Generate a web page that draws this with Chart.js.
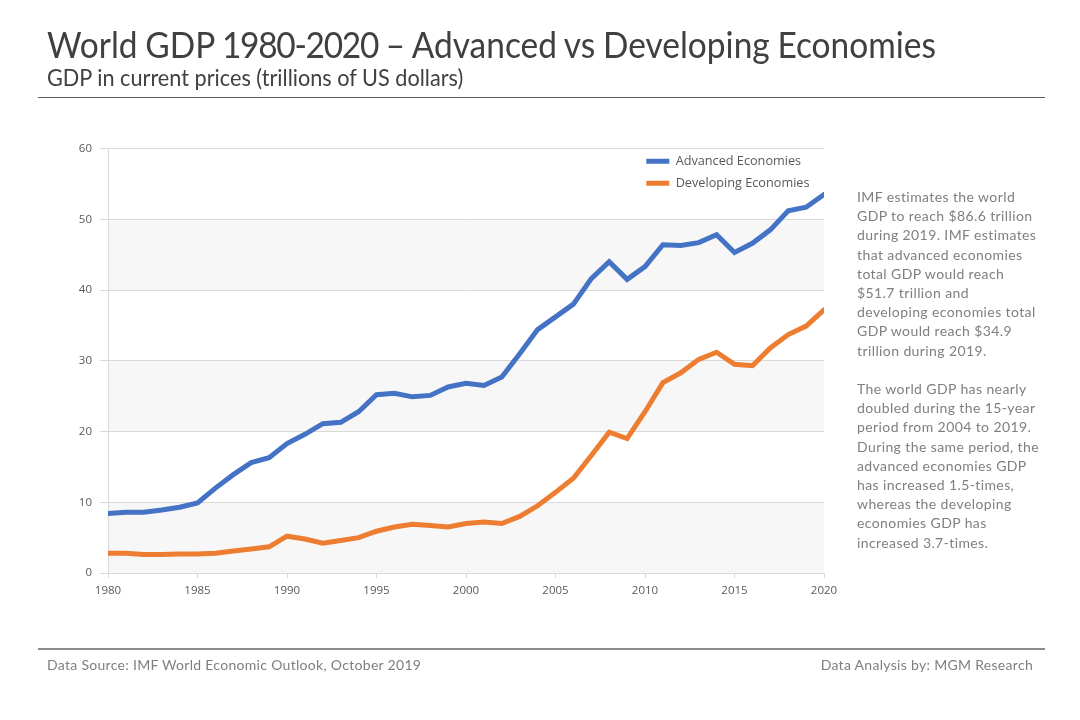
<!DOCTYPE html>
<html>
<head>
<meta charset="utf-8">
<title>World GDP 1980-2020</title>
<script src="https://cdn.jsdelivr.net/npm/chart.js@4/dist/chart.umd.min.js"></script>
<style>
  html, body { margin: 0; padding: 0; background: #fff; }
  #page { position: relative; width: 1080px; height: 720px; overflow: hidden; font-family: Lato, sans-serif; }
  #page div { position: absolute; white-space: nowrap; }
  canvas { position: absolute; left: 0; top: 0; }
  #title { left: 47px; top: 21px; font-size: 36px; line-height: 46px; color: #404040; word-spacing: -1px; transform: scaleX(0.93); transform-origin: left center; }
  #title span { letter-spacing: -1.4px; }
  #subtitle { left: 47px; top: 63px; font-size: 22.5px; line-height: 30px; color: #404040; transform: scaleX(0.963); transform-origin: left center; }
  .rule { height: 1px; left: 38px; width: 1007px; }
  #ruleTop { top: 97px; background: #595959; }
  #ruleBottom { top: 648px; height: 2px; background: #8c8c8c; }
  #notes { left: 857px; top: 187px; font-size: 14px; line-height: 19.2px; color: #7f7f7f; letter-spacing: 0.4px; }
  .foot { top: 655px; font-size: 14px; line-height: 20px; color: #7f7f7f; letter-spacing: 0.3px; }
  #source { left: 47px; }
  #credit { right: 47px; }
</style>
</head>
<body>
<div id="page">
  <canvas id="gdpChart" width="1080" height="720"></canvas>
  <div id="title">World GDP <span>1980-2020</span> – Advanced vs Developing Economies</div>
  <div id="subtitle">GDP in current prices (trillions of US dollars)</div>
  <div id="ruleTop" class="rule"></div>
  <div id="notes">IMF estimates the world<br>GDP to reach $86.6 trillion<br>during 2019. IMF estimates<br>that advanced economies<br>total GDP would reach<br>$51.7 trillion and<br>developing economies total<br>GDP would reach $34.9<br>trillion during 2019.<br><br>The world GDP has nearly<br>doubled during the 15-year<br>period from 2004 to 2019.<br>During the same period, the<br>advanced economies GDP<br>has increased 1.5-times,<br>whereas the developing<br>economies GDP has<br>increased 3.7-times.</div>
  <div id="ruleBottom" class="rule"></div>
  <div id="source" class="foot">Data Source: IMF World Economic Outlook, October 2019</div>
  <div id="credit" class="foot">Data Analysis by: MGM Research</div>
</div>
<script>
const years = [1980, 1981, 1982, 1983, 1984, 1985, 1986, 1987, 1988, 1989, 1990, 1991, 1992, 1993, 1994, 1995, 1996, 1997, 1998, 1999, 2000, 2001, 2002, 2003, 2004, 2005, 2006, 2007, 2008, 2009, 2010, 2011, 2012, 2013, 2014, 2015, 2016, 2017, 2018, 2019, 2020];
const advanced = [8.4, 8.6, 8.6, 8.9, 9.3, 9.9, 12.0, 13.9, 15.6, 16.3, 18.3, 19.6, 21.1, 21.3, 22.8, 25.2, 25.4, 24.9, 25.1, 26.3, 26.8, 26.5, 27.7, 31.0, 34.4, 36.2, 38.0, 41.6, 44.0, 41.5, 43.3, 46.4, 46.3, 46.7, 47.8, 45.3, 46.6, 48.5, 51.2, 51.7, 53.5];
const developing = [2.8, 2.8, 2.6, 2.6, 2.7, 2.7, 2.8, 3.1, 3.4, 3.7, 5.2, 4.8, 4.2, 4.6, 5.0, 5.9, 6.5, 6.9, 6.7, 6.5, 7.0, 7.2, 7.0, 8.0, 9.5, 11.4, 13.4, 16.6, 19.9, 19.0, 22.8, 26.9, 28.3, 30.2, 31.2, 29.5, 29.3, 31.8, 33.7, 34.9, 37.2];
const shadedBands = [[0, 10], [20, 30], [40, 50]];

const axisFont = { family: '"Open Sans", sans-serif', size: 11.5 };
const gridColor = '#d9d9d9';

// Alternate row shading behind the grid lines
const bandPlugin = {
  id: 'bands',
  beforeDraw(chart) {
    const { ctx, chartArea, scales } = chart;
    ctx.save();
    ctx.fillStyle = '#f7f7f7';
    shadedBands.forEach(([lo, hi]) => {
      const top = scales.y.getPixelForValue(hi);
      ctx.fillRect(chartArea.left, top, chartArea.width, scales.y.getPixelForValue(lo) - top);
    });
    ctx.restore();
  }
};

// Move the legend to the top right corner of the plot
const legendPlugin = {
  id: 'legendSpot',
  afterLayout(chart) {
    const l = chart.legend;
    const w = l.width, h = l.height;
    l.left = 637;
    l.right = l.left + w;
    l.top = 145.5;
    l.bottom = l.top + h;
    l.adjustHitBoxes();
  }
};

new Chart(document.getElementById('gdpChart'), {
  type: 'line',
  data: {
    datasets: [
      { label: 'Advanced Economies', data: years.map((y, i) => ({ x: y, y: advanced[i] })), borderColor: '#4472C4', backgroundColor: '#4472C4' },
      { label: 'Developing Economies', data: years.map((y, i) => ({ x: y, y: developing[i] })), borderColor: '#ED7D31', backgroundColor: '#ED7D31' }
    ].map(d => ({ ...d, borderWidth: 5, pointRadius: 0, tension: 0, clip: 0, borderCapStyle: 'round', borderJoinStyle: 'miter' }))
  },
  options: {
    responsive: false,
    animation: false,
    devicePixelRatio: 1,
    layout: { padding: { top: 148.5, right: 256, left: 0, bottom: 0 } },
    plugins: {
      title: { display: false },
      tooltip: { enabled: false },
      legend: {
        position: 'chartArea',
        align: 'start',
        labels: {
          usePointStyle: true,
          pointStyle: 'line',
          pointStyleWidth: 23,
          boxHeight: 10,
          padding: 9.3,
          color: '#595959',
          font: { family: '"Open Sans", sans-serif', size: 12.7 }
        }
      }
    },
    scales: {
      x: {
        type: 'linear',
        min: 1980,
        max: 2020,
        afterFit(scale) { scale.height = 147; },
        grid: { drawOnChartArea: false, color: gridColor, tickLength: 5, tickColor: gridColor },
        border: { color: gridColor },
        ticks: { stepSize: 5, padding: 6, color: '#595959', font: axisFont, maxRotation: 0, callback: v => String(v) }
      },
      y: {
        min: 0,
        max: 60,
        afterFit(scale) { scale.width = 108; },
        grid: { color: gridColor, tickLength: 8, tickColor: gridColor },
        border: { color: gridColor },
        ticks: { stepSize: 10, padding: 8, color: '#595959', font: axisFont }
      }
    }
  },
  plugins: [bandPlugin, legendPlugin]
});
</script>
</body>
</html>
